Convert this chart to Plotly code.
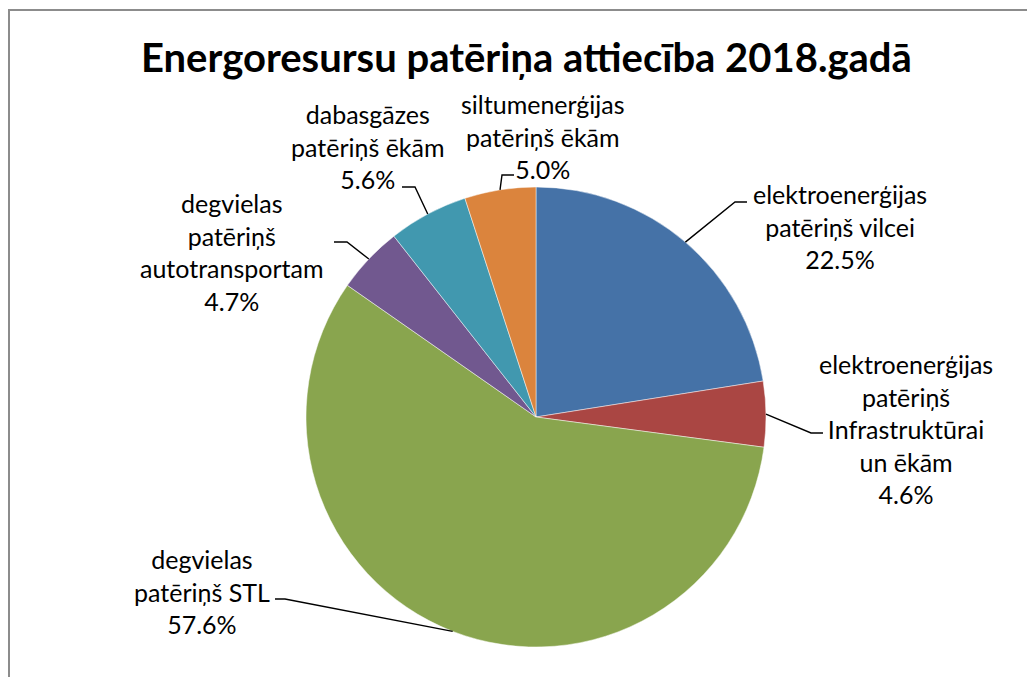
import math
import plotly.graph_objects as go

# ---- data ----
labels = [
    "elektroenerģijas<br>patēriņš vilcei",
    "elektroenerģijas<br>patēriņš<br>Infrastruktūrai<br>un ēkām",
    "degvielas<br>patēriņš STL",
    "degvielas<br>patēriņš<br>autotransportam",
    "dabasgāzes<br>patēriņš ēkām",
    "siltumenerģijas<br>patēriņš ēkām",
]
values = [22.5, 4.6, 57.6, 4.7, 5.6, 5.0]
colors = ["#4572A7", "#AA4643", "#89A54E", "#71588F", "#4198AF", "#DB843D"]
title = "Energoresursu patēriņa attiecība 2018.gadā"

# ---- layout (pixel positions) ----
W, H = 1027, 677
CX, CY, R = 536, 417, 230
# label centre (x, y of first line) and leader elbow / end points
label_pos = [(840, 193), (906, 363), (202, 558), (232, 202), (368, 113), (543, 103)]
elbows = [((735, 202), (747, 202)), ((811, 433), (823, 433)), ((285, 599), (275, 599)),
          ((347, 242), (334, 242)), ((415, 187), (402, 187)), ((502, 175), (514, 175))]
LINE_H = 33
FONT = "Lato, Calibri, Carlito, sans-serif"


def px(x, y):
    return x / W, 1 - y / H


fig = go.Figure(go.Pie(
    values=values,
    labels=[l.replace("<br>", " ") for l in labels],
    sort=False,
    direction="clockwise",
    rotation=0,
    marker=dict(colors=colors, line=dict(color="rgba(255,255,255,0.6)", width=0.8)),
    textinfo="none",
    hoverinfo="label+percent",
    domain=dict(x=[(CX - R) / W, (CX + R) / W], y=[1 - (CY + R) / H, 1 - (CY - R) / H]),
    showlegend=False,
))

shapes = []
annotations = []
total = sum(values)
cum = 0.0
for lab, v, lp, (e1, e2) in zip(labels, values, label_pos, elbows):
    mid = (cum + v / 2) / total * 2 * math.pi
    cum += v
    sx = CX + R * math.sin(mid)
    sy = CY - R * math.cos(mid)
    pts = [(sx, sy), e1, e2]
    path = "M " + " L ".join(f"{px(x, y)[0]:.5f},{px(x, y)[1]:.5f}" for x, y in pts)
    shapes.append(dict(type="path", xref="paper", yref="paper", path=path,
                       line=dict(color="black", width=1.4)))
    pct = f"{v / total * 100:.1f}%"
    lines = lab.split("<br>") + [pct]
    n = len(lines)
    yc = lp[1] + (n - 1) * LINE_H / 2
    ax, ay = px(lp[0], yc)
    annotations.append(dict(
        x=ax, y=ay, xref="paper", yref="paper", showarrow=False,
        text="<br>".join(lines), align="center", xanchor="center", yanchor="middle",
        font=dict(family=FONT, size=25, color="black"),
    ))

# title
tx, ty = px(526, 57)
annotations.append(dict(x=tx, y=ty, xref="paper", yref="paper", showarrow=False,
                        text="<b>" + title + "</b>", xanchor="center", yanchor="middle",
                        font=dict(family=FONT, size=40, color="black")))

# chart border (top/left visible)
bx0, by0 = px(9, 10)
shapes.append(dict(type="rect", xref="paper", yref="paper", x0=bx0, y0=-0.1, x1=1.1, y1=by0,
                   line=dict(color="#8C8C8C", width=2)))

fig.update_layout(
    width=W, height=H,
    margin=dict(l=0, r=0, t=0, b=0),
    paper_bgcolor="white",
    plot_bgcolor="white",
    shapes=shapes,
    annotations=annotations,
)

fig.write_html("out.html", config={"displayModeBar": False},
               post_script="document.body.style.margin='0px';document.body.style.overflow='hidden';")
